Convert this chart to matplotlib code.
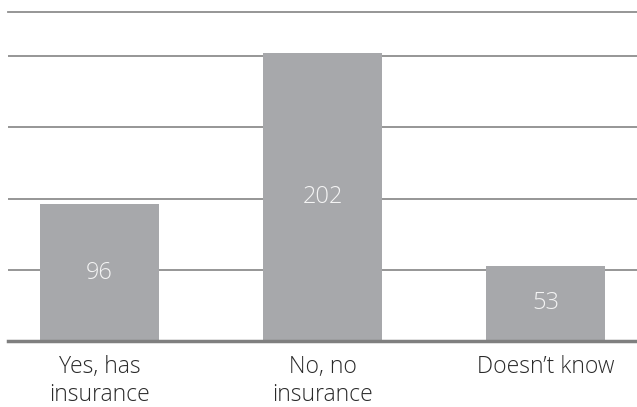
import matplotlib.pyplot as plt

# data
categories = ["Yes, has\ninsurance", "No, no\ninsurance", "Doesn\u2019t know"]
counts = [96, 202, 53]
grid_values = [50, 100, 150, 200]

plt.rcParams['font.family'] = ['Open Sans', 'DejaVu Sans']

fig = plt.figure(figsize=(6.37, 4.07), dpi=100)
ax = fig.add_axes([0.0126, 0.162, 0.9874, 0.8085])

x = range(len(categories))
bars = ax.bar(x, counts, width=0.535, color='#a7a8ab', zorder=3)

for b, v in zip(bars, counts):
    ax.text(b.get_x() + b.get_width() / 2, v / 2, str(v),
            ha='center', va='center', color='#f4f4f4', fontsize=17,
            fontweight='light', zorder=4)

ax.set_xlim(-0.41, 2.41)
ax.set_ylim(0, 231)

for g in grid_values:
    ax.axhline(g, color='#8e8e8e', lw=1.3, zorder=1)

for s in ['left', 'right']:
    ax.spines[s].set_visible(False)
ax.spines['top'].set_color('#8e8e8e')
ax.spines['top'].set_linewidth(1.3)
ax.spines['bottom'].set_color('#7f7f7f')
ax.spines['bottom'].set_linewidth(2.5)
ax.spines['bottom'].set_zorder(5)

ax.set_yticks([])
ax.set_xticks(list(x))
ax.set_xticklabels(categories, fontsize=16.5, color='#2a2a2a', linespacing=1.22,
                   fontweight='light')
ax.tick_params(axis='x', length=0, pad=10)

plt.savefig("out.png", dpi=100)
